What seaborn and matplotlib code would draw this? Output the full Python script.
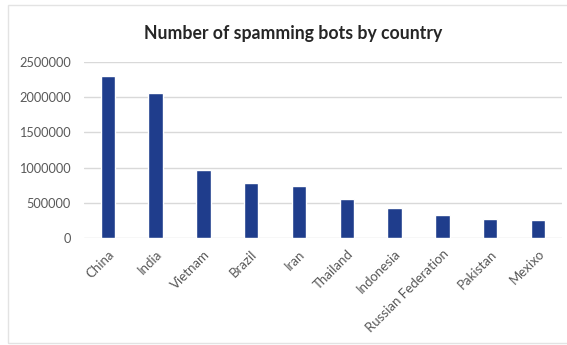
import matplotlib
matplotlib.use("Agg")
import matplotlib.pyplot as plt
from matplotlib.patches import Rectangle
import seaborn as sns
import pandas as pd

countries = ["China", "India", "Vietnam", "Brazil", "Iran", "Thailand",
             "Indonesia", "Russian Federation", "Pakistan", "Mexixo"]
bots = [2300000, 2065000, 965000, 790000, 735000, 552000,
        430000, 335000, 273000, 265000]
y_ticks = [0, 500000, 1000000, 1500000, 2000000, 2500000]

df = pd.DataFrame({"country": countries, "bots": bots})

sns.set_theme(style="white")
plt.rcParams["font.family"] = ["Lato", "DejaVu Sans"]

fig = plt.figure(figsize=(5.67, 3.45), dpi=100)
fig.patch.set_facecolor("white")

# chart frame
fig.add_artist(Rectangle((8 / 567, 2 / 345), 575 / 567, 338 / 345,
                         transform=fig.transFigure, fill=False,
                         edgecolor="#E3E3E3", linewidth=1.0))

ax = fig.add_axes([83.9 / 567, (345 - 238.3) / 345,
                   (562 - 83.9) / 567, (238.3 - 61.8) / 345])

sns.barplot(data=df, x="country", y="bots", color="#1F3D8C",
            width=0.30, saturation=1, ax=ax, zorder=3)

ax.set_ylim(0, 2500000)
ax.set_xlim(-0.5, len(countries) - 0.5)
ax.set_yticks(y_ticks)
ax.set_yticklabels([str(v) for v in y_ticks])
ax.yaxis.grid(True, color="#D9D9D9", linewidth=1.0, zorder=0)
ax.set_axisbelow(True)
for s in ax.spines.values():
    s.set_visible(False)
ax.set_xlabel("")
ax.set_ylabel("")
ax.tick_params(axis="y", length=0, pad=9.5, labelsize=9.2, labelcolor="#595959")
ax.tick_params(axis="x", length=0, pad=2, labelsize=9.5, labelcolor="#595959")
ax.set_xticks(range(len(countries)))
ax.set_xticklabels(countries, rotation=45, ha="right", va="center",
                   rotation_mode="anchor")
for lbl in ax.get_xticklabels():
    lbl.set_transform(lbl.get_transform() +
                      matplotlib.transforms.ScaledTranslation(4 / 100, -11 / 100,
                                                              fig.dpi_scale_trans))

fig.text(293.5 / 567, 1 - 33 / 345, "Number of spamming bots by country",
         ha="center", va="center", fontsize=12.7, fontweight="bold",
         color="#262626")

fig.savefig("out.png", dpi=100, facecolor="white")
